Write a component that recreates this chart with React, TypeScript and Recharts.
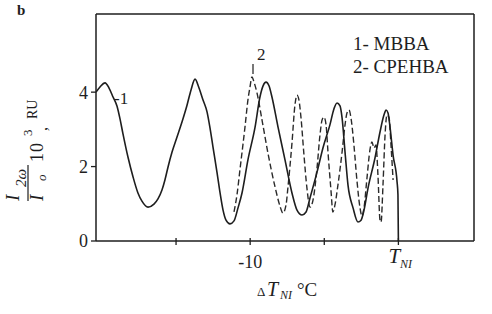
import { LineChart, Line, XAxis, YAxis, ReferenceLine } from "recharts";

// ΔT_NI (°C) and I2ω/Io·10³
const mbbaT = [
  -20.4, -20.13, -19.79, -19.52, -19.25, -18.98, -18.78, -18.58, -18.24, -17.9, -17.57, -17.3, -16.89, -16.49, -16.22,
  -15.95, -15.75, -15.54, -15.27, -14.94, -14.6, -14.26, -13.99, -13.72, -13.45, -13.18, -12.91, -12.71, -12.51,
  -12.24, -12.03, -11.83, -11.63, -11.36, -11.09, -10.82, -10.55, -10.15, -9.67, -9.34, -9.13, -8.93, -8.73,
  -8.53, -8.12, -7.65, -7.18, -6.84, -6.5, -6.23, -5.96, -5.49, -5.09, -4.62, -4.35, -4.14, -3.94, -3.8, -3.6,
  -3.4, -3.06, -2.73, -2.52, -2.32, -2.05, -1.58, -1.24, -0.97, -0.83, -0.7, -0.56, -0.36, -0.09, -0.03, 0.0,
];
const mbbaI = [
  4.0, 4.14, 4.25, 4.11, 3.87, 3.62, 3.28, 2.88, 2.25, 1.72, 1.29, 1.07, 0.91, 0.99, 1.13,
  1.37, 1.64, 1.99, 2.39, 2.79, 3.2, 3.65, 4.06, 4.35, 4.11, 3.79, 3.47, 3.04, 2.53,
  1.85, 1.29, 0.83, 0.56, 0.46, 0.54, 0.89, 1.29, 2.18, 3.06, 3.87, 4.17, 4.27, 4.17,
  3.87, 3.06, 2.18, 1.29, 0.83, 0.7, 0.78, 1.16, 1.85, 2.5, 3.12, 3.55, 3.71, 3.63, 3.31, 2.39,
  1.5, 0.89, 0.51, 0.56, 0.83, 1.42, 2.23, 2.93, 3.39, 3.52, 3.44, 3.04, 2.31, 1.59, 1.24, 0,
];

const cpehbaT = [
  -11.09, -10.89, -10.69, -10.35, -10.15, -10.01, -9.88, -9.74, -9.54, -9.2, -8.8, -8.32, -7.99, -7.79,
  -7.58, -7.45, -7.18, -6.98, -6.84, -6.71, -6.57, -6.37, -6.17, -5.96, -5.76, -5.49, -5.29, -5.15,
  -5.02, -4.88, -4.75, -4.55, -4.42, -4.28, -4.08, -3.8, -3.6, -3.47, -3.33, -3.2, -3.0, -2.8,
  -2.59, -2.46, -2.32, -2.12, -1.92, -1.78, -1.65, -1.51, -1.38, -1.24, -1.17, -1.04, -0.9, -0.77,
  -0.63, -0.5, -0.36,
];
const cpehbaI = [
  0.78, 1.24, 1.91, 3.06, 3.79, 4.14, 4.41, 4.27, 3.98, 3.25, 2.36, 1.45, 0.94, 0.75,
  0.97, 1.45, 2.63, 3.65, 3.92, 3.79, 3.31, 2.31, 1.42, 0.91, 1.1, 1.96, 2.85, 3.25,
  3.33, 3.12, 2.39, 1.37, 0.78, 0.97, 1.5, 2.39, 3.12, 3.44, 3.52, 3.31, 2.58, 1.64,
  0.89, 0.67, 0.89, 1.69, 2.45, 2.66, 2.5, 2.58, 1.77, 0.56, 0.51, 1.5, 2.85, 3.39,
  3.31, 2.58, 1.64,
];

const xTicks = [-15, -10, -5, 0];
const yTicks = [0, 2, 4];
const legendLines = ["1- MBBA", "2- CPEHBA"];

const mbba = mbbaT.map((x, i) => ({ x, y: mbbaI[i] }));
const cpehba = cpehbaT.map((x, i) => ({ x, y: cpehbaI[i] }));

const FONT = "'Liberation Serif', 'Times New Roman', Times, serif";
const INK = "#1e1e1e";

function XTick({ x, y, payload }: any) {
  const v = payload.value;
  return (
    <g>
      <line x1={x} x2={x} y1={y - 3} y2={y + 4} stroke={INK} strokeWidth={1.3} />
      {v === -10 && (
        <text x={x} y={y + 27} textAnchor="middle" fontSize={18} style={{ fontFamily: FONT }} fill={INK}>
          -10
        </text>
      )}
      {v === 0 && (
        <text x={x - 10} y={y + 22} style={{ fontFamily: FONT }} fill={INK}>
          <tspan fontStyle="italic" fontSize={21}>T</tspan>
          <tspan fontStyle="italic" fontSize={12} dy={5}>NI</tspan>
        </text>
      )}
    </g>
  );
}

export default function App() {
  return (
    <div
      style={{ position: "absolute", left: 0, top: 0, width: 492, height: 314, background: "#fff", fontFamily: FONT }}
    >
      <LineChart width={492} height={314} margin={{ top: 14, right: 18, bottom: 0, left: 0 }}>
        <XAxis
          dataKey="x"
          type="number"
          domain={[-20.4, 5.1]}
          ticks={xTicks}
          tick={<XTick />}
          tickLine={false}
          tickSize={0}
          tickMargin={0}
          height={73}
          axisLine={{ stroke: INK, strokeWidth: 1.5 }}
          allowDataOverflow
        />
        <YAxis
          type="number"
          domain={[0, 6.1]}
          ticks={yTicks}
          width={96}
          tickSize={5}
          tickMargin={3}
          tickLine={{ stroke: INK, strokeWidth: 1.3 }}
          axisLine={{ stroke: INK, strokeWidth: 1.5 }}
          tick={{ fontSize: 18, fill: INK, style: { fontFamily: FONT } }}
          allowDataOverflow
        />
        <ReferenceLine y={6.1} stroke={INK} strokeWidth={1.5} />
        <ReferenceLine x={5.1} stroke={INK} strokeWidth={1.5} />
        <Line
          data={cpehba}
          dataKey="y"
          type="monotoneX"
          stroke="#2a2a2a"
          strokeWidth={1.4}
          strokeDasharray="6 3"
          dot={false}
          isAnimationActive={false}
        />
        <Line
          data={mbba}
          dataKey="y"
          type="monotoneX"
          stroke={INK}
          strokeWidth={1.6}
          dot={false}
          isAnimationActive={false}
        />
      </LineChart>

      <svg
        width={492}
        height={314}
        style={{ position: "absolute", left: 0, top: 0, pointerEvents: "none", fontFamily: FONT }}
        fill={INK}
      >
        <text x={17} y={15} fontSize={15} fontWeight="bold">b</text>

        {legendLines.map((s, i) => (
          <text key={s} x={353} y={50 + i * 23} fontSize={19}>{s}</text>
        ))}

        <text x={114} y={104} fontSize={17}>-1</text>
        <text x={257} y={60} fontSize={17}>2</text>
        <line x1={253} x2={253} y1={64} y2={74} stroke={INK} strokeWidth={1.2} />

        {/* y label, rotated */}
        <text transform="translate(19,201) rotate(-90)" fontSize={19} fontStyle="italic">I</text>
        <text transform="translate(26,187) rotate(-90)" fontSize={15} fontStyle="italic">2ω</text>
        <line x1={28} x2={28} y1={165} y2={201} stroke={INK} strokeWidth={1.2} />
        <text transform="translate(43,201) rotate(-90)" fontSize={19} fontStyle="italic">I</text>
        <text transform="translate(46,181) rotate(-90)" fontSize={13} fontStyle="italic">o</text>
        <text transform="translate(43,162) rotate(-90)" fontSize={18} letterSpacing={1}>10</text>
        <text transform="translate(32,136) rotate(-90)" fontSize={13}>3</text>
        <text transform="translate(47,131) rotate(-90)" fontSize={16}>,</text>
        <text transform="translate(37,119) rotate(-90)" fontSize={14}>RU</text>

        {/* x label */}
        <text y={296} fontSize={19}>
          <tspan x={257} fontSize={13}>Δ</tspan>
          <tspan x={267} fontStyle="italic" fontSize={20}>T</tspan>
          <tspan x={280} fontStyle="italic" fontSize={12} dy={3}>NI</tspan>
          <tspan x={297} dy={-3}>°C</tspan>
        </text>
      </svg>
    </div>
  );
}
